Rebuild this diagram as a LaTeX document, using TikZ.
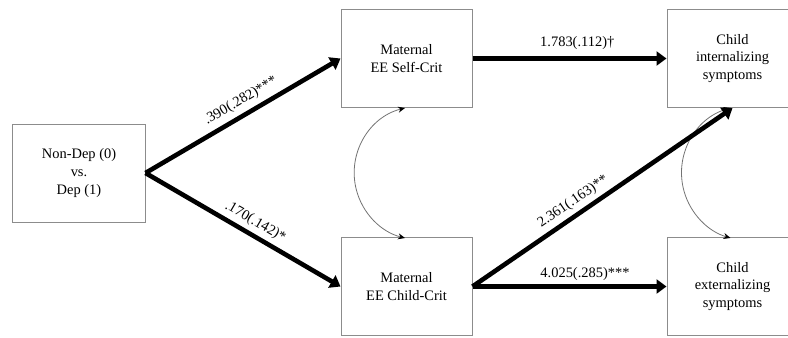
\documentclass[tikz,border=0pt]{standalone}
\usepackage{fontspec}
\setmainfont{Liberation Serif}
\usetikzlibrary{arrows.meta}
\begin{document}
\begin{tikzpicture}[x=1bp,y=1bp,
  box/.style={draw=black!45, line width=1bp, minimum width=131bp, minimum height=98bp,
    align=center, inner sep=0pt, font=\fontsize{14.5}{17.8}\selectfont},
  path/.style={line width=4.6bp, -{Triangle[length=10bp,width=14bp]}},
  corr/.style={draw=black!55, line width=0.8bp, {Stealth[length=7bp,width=6bp,color=black]}-{Stealth[length=7bp,width=6bp,color=black]}},
  lab/.style={font=\fontsize{14.5}{17}\selectfont, sloped, above, inner sep=4bp}]
\useasboundingbox (0,0) rectangle (788,337);
\clip (0,0) rectangle (788,337);
\node[box, minimum width=132bp] (lb) at (79,164) {Non-Dep (0)\\vs.\\Dep (1)};
\node[box] (sc) at (406.5,278.5) {Maternal\\EE Self-Crit};
\node[box] (cc) at (406.5,50.5) {Maternal\\EE Child-Crit};
\node[box] (ci) at (732.5,278.5) {Child\\internalizing\\symptoms};
\node[box] (ce) at (732.5,50.5) {Child\\externalizing\\symptoms};
\draw[corr] ([xshift=-1.5bp]sc.south) arc[start angle=104, end angle=256, radius=67bp];
\draw[corr] ([xshift=-2bp]ci.south) arc[start angle=106, end angle=254, radius=67.6bp];
\draw[path] (lb.east) -- node[lab, pos=0.525, inner sep=5bp] {.390(.282)***} (sc.west);
\draw[path] (lb.east) -- node[lab, pos=0.53, inner sep=4bp] {.170(.142)*} (cc.west);
\draw[path] (sc.east) -- node[lab, pos=0.54, inner sep=7bp] {1.783(.112)†} (ci.west);
\draw[path] (cc.east) -- node[lab, pos=0.58, inner sep=4bp] {4.025(.285)***} (ce.west);
\draw[path] (cc.east) -- node[lab, pos=0.415, inner sep=4bp] {2.361(.163)**} (ci.south);
\end{tikzpicture}
\end{document}
